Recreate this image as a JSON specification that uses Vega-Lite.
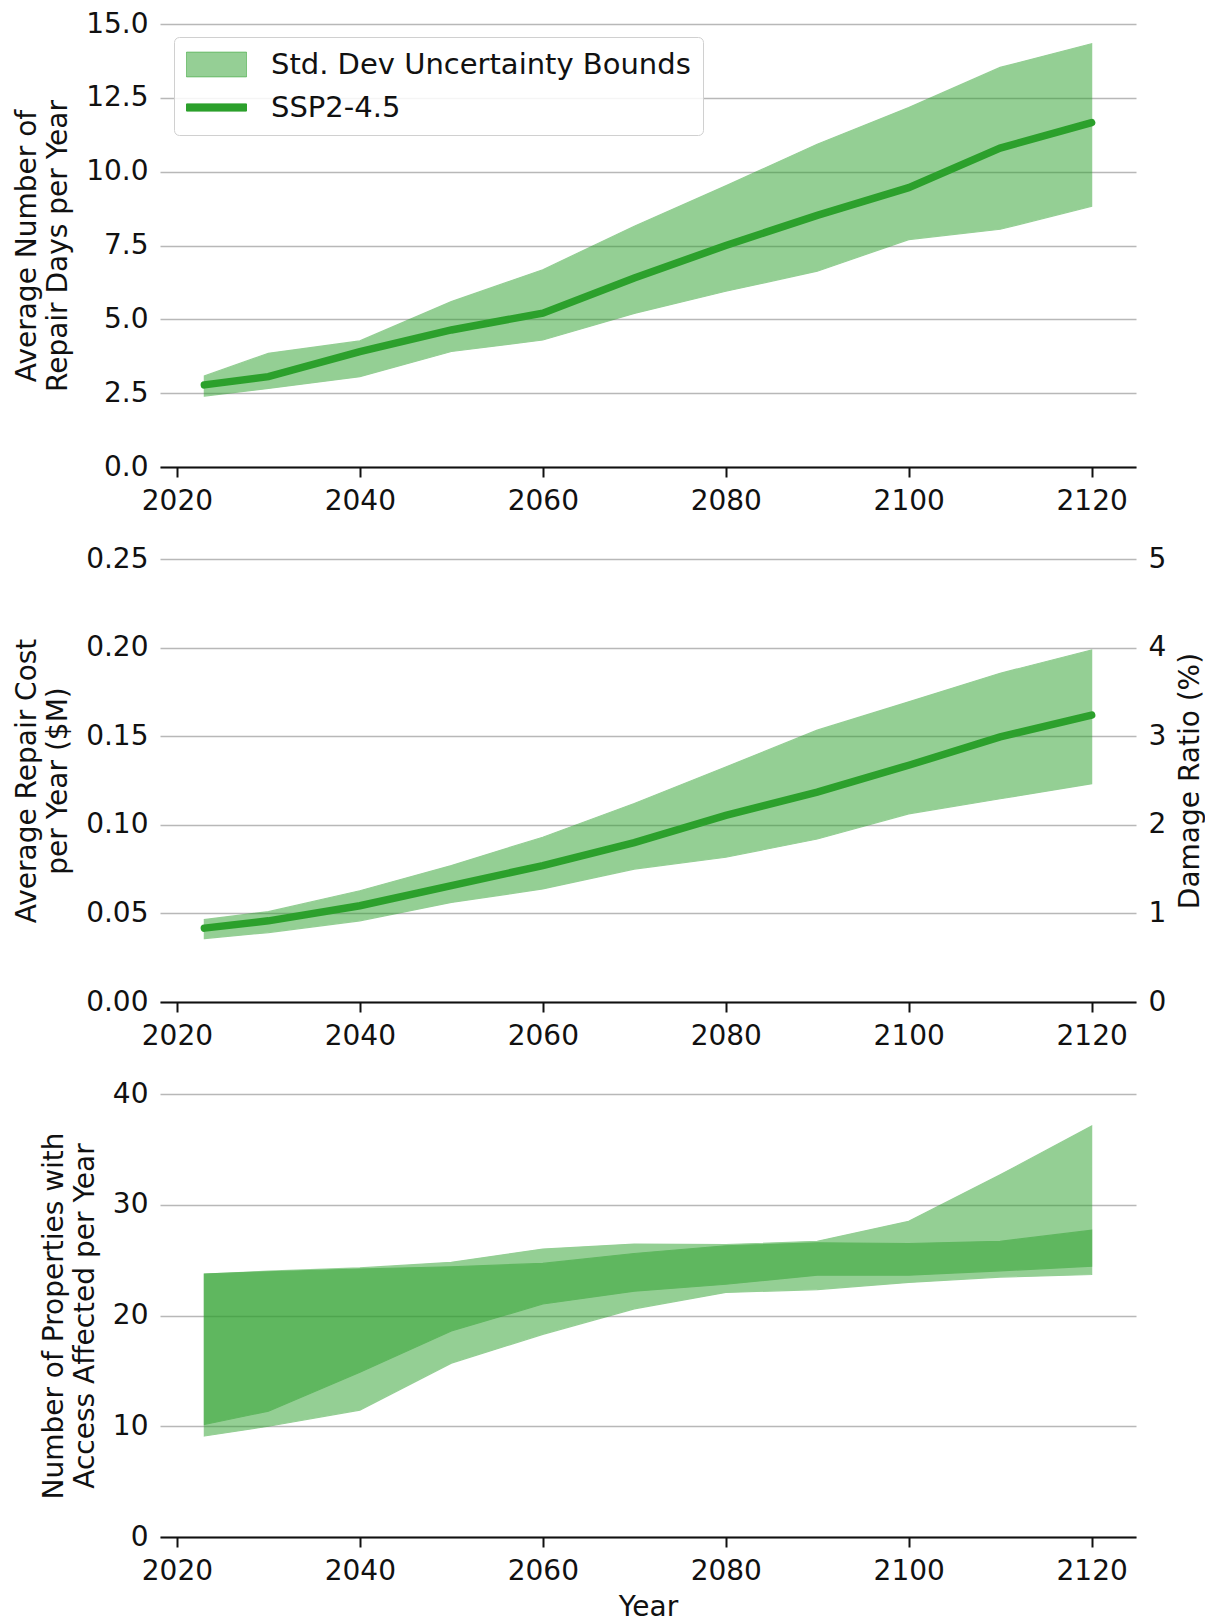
{
  "$schema": "https://vega.github.io/schema/vega-lite/v6.json",
  "background": "white",
  "padding": {"left": 13, "top": 10, "right": 0, "bottom": 0},
  "spacing": 30,
  "config": {
    "font": "DejaVu Sans",
    "view": {"stroke": null},
    "axis": {"labelFontSize": 28, "titleFontSize": 28, "labelColor": "#111", "titleColor": "#111", "titleFontWeight": "normal", "labelFont": "DejaVu Sans", "titleFont": "DejaVu Sans"},
    "axisY": {"domain": false, "ticks": false, "labelPadding": 12, "gridColor": "#b8b8b8", "gridWidth": 1.6, "titleLineHeight": 31, "titlePadding": 13},
    "axisX": {"grid": false, "domainColor": "#111", "domainWidth": 2, "tickColor": "#111", "tickWidth": 2, "tickSize": 10, "labelPadding": 10}
  },
  "datasets": {
    "days": [
      {"year": 2023, "mean": 2.78, "lo": 2.40, "hi": 3.08},
      {"year": 2030, "mean": 3.06, "lo": 2.66, "hi": 3.85},
      {"year": 2040, "mean": 3.91, "lo": 3.06, "hi": 4.27},
      {"year": 2050, "mean": 4.64, "lo": 3.91, "hi": 5.60},
      {"year": 2060, "mean": 5.21, "lo": 4.30, "hi": 6.68},
      {"year": 2070, "mean": 6.40, "lo": 5.20, "hi": 8.15},
      {"year": 2080, "mean": 7.50, "lo": 5.95, "hi": 9.52},
      {"year": 2090, "mean": 8.52, "lo": 6.63, "hi": 10.93},
      {"year": 2100, "mean": 9.46, "lo": 7.70, "hi": 12.17},
      {"year": 2110, "mean": 10.80, "lo": 8.05, "hi": 13.53},
      {"year": 2120, "mean": 11.66, "lo": 8.83, "hi": 14.33}
    ],
    "cost": [
      {"year": 2023, "mean": 0.0417, "lo": 0.0358, "hi": 0.0465, "ratio": 0.834},
      {"year": 2030, "mean": 0.0458, "lo": 0.0392, "hi": 0.0510, "ratio": 0.916},
      {"year": 2040, "mean": 0.0543, "lo": 0.0458, "hi": 0.0628, "ratio": 1.086},
      {"year": 2050, "mean": 0.0657, "lo": 0.0562, "hi": 0.0770, "ratio": 1.314},
      {"year": 2060, "mean": 0.0770, "lo": 0.0638, "hi": 0.0930, "ratio": 1.540},
      {"year": 2070, "mean": 0.0900, "lo": 0.0750, "hi": 0.1120, "ratio": 1.800},
      {"year": 2080, "mean": 0.1053, "lo": 0.0817, "hi": 0.1326, "ratio": 2.106},
      {"year": 2090, "mean": 0.1185, "lo": 0.0920, "hi": 0.1534, "ratio": 2.370},
      {"year": 2100, "mean": 0.1336, "lo": 0.1062, "hi": 0.1694, "ratio": 2.672},
      {"year": 2110, "mean": 0.1496, "lo": 0.1147, "hi": 0.1855, "ratio": 2.992},
      {"year": 2120, "mean": 0.1619, "lo": 0.1232, "hi": 0.1987, "ratio": 3.238}
    ],
    "access": [
      {"year": 2023, "lo1": 9.12, "hi1": 23.75, "lo2": 10.16, "hi2": 23.75},
      {"year": 2030, "lo1": 10.0, "hi1": 24.0, "lo2": 11.36, "hi2": 23.95},
      {"year": 2040, "lo1": 11.46, "hi1": 24.3, "lo2": 14.87, "hi2": 24.2},
      {"year": 2050, "lo1": 15.7, "hi1": 24.8, "lo2": 18.6, "hi2": 24.4},
      {"year": 2060, "lo1": 18.3, "hi1": 26.0, "lo2": 21.04, "hi2": 24.7},
      {"year": 2070, "lo1": 20.6, "hi1": 26.45, "lo2": 22.2, "hi2": 25.6},
      {"year": 2080, "lo1": 22.08, "hi1": 26.4, "lo2": 22.82, "hi2": 26.3},
      {"year": 2090, "lo1": 22.34, "hi1": 26.7, "lo2": 23.64, "hi2": 26.56},
      {"year": 2100, "lo1": 22.99, "hi1": 28.5, "lo2": 23.64, "hi2": 26.5},
      {"year": 2110, "lo1": 23.47, "hi1": 32.7, "lo2": 24.03, "hi2": 26.7},
      {"year": 2120, "lo1": 23.7, "hi1": 37.1, "lo2": 24.45, "hi2": 27.7}
    ]
  },
  "vconcat": [
    {
      "width": 976, "height": 443,
      "data": {"name": "days"},
      "layer": [
        {
          "mark": {"type": "area", "opacity": 0.5, "stroke": "#2ca02c", "strokeWidth": 1.2},
          "encoding": {
            "x": {"field": "year", "type": "quantitative", "scale": {"domain": [2018.15, 2124.85], "nice": false, "zero": false}, "axis": {"values": [2020, 2040, 2060, 2080, 2100, 2120], "format": "d", "title": null}},
            "y": {"field": "lo", "type": "quantitative", "title": ["Average Number of", "Repair Days per Year"], "scale": {"domain": [0, 15], "nice": false}, "axis": {"values": [0, 2.5, 5, 7.5, 10, 12.5, 15], "format": ".1f"}},
            "y2": {"field": "hi"},
            "color": {
              "datum": "Std. Dev Uncertainty Bounds",
              "scale": {"domain": ["Std. Dev Uncertainty Bounds", "SSP2-4.5"], "range": ["#2ca02c", "#2ca02c"]},
              "legend": {
                "orient": "none", "legendX": 14, "legendY": 13,
                "title": null,
                "symbolType": "square", "symbolSize": 900,
                "labelFontSize": 29, "labelColor": "#111", "labelFont": "DejaVu Sans", "labelLimit": 0,
                "labelOffset": 54, "rowPadding": 12, "padding": 12,
                "strokeColor": "#d0d0d0", "fillColor": "rgba(255,255,255,0.85)", "cornerRadius": 5,
                "encode": {
                  "symbols": {
                    "update": {
                      "shape": {"signal": "datum.value === 'SSP2-4.5' ? 'M-1,-0.24H3V0.24H-1Z' : 'M-1,-0.83H3V0.83H-1Z'"},
                      "fill": {"value": "#2ca02c"},
                      "fillOpacity": {"signal": "datum.value === 'SSP2-4.5' ? 1 : 0.5"},
                      "stroke": {"value": "#2ca02c"},
                      "strokeWidth": {"value": 1},
                      "strokeOpacity": {"signal": "datum.value === 'SSP2-4.5' ? 1 : 0.5"},
                      "opacity": {"value": 1}
                    }
                  }
                }
              }
            }
          }
        },
        {
          "mark": {"type": "line", "strokeWidth": 7.5, "strokeCap": "round"},
          "encoding": {
            "x": {"field": "year", "type": "quantitative"},
            "y": {"field": "mean", "type": "quantitative", "title": ["Average Number of", "Repair Days per Year"]},
            "color": {
              "datum": "SSP2-4.5",
              "legend": {
                "orient": "none", "legendX": 14, "legendY": 13,
                "title": null,
                "symbolType": "square", "symbolSize": 900,
                "labelFontSize": 29, "labelColor": "#111", "labelFont": "DejaVu Sans", "labelLimit": 0,
                "labelOffset": 54, "rowPadding": 12, "padding": 12,
                "strokeColor": "#d0d0d0", "fillColor": "rgba(255,255,255,0.85)", "cornerRadius": 5,
                "encode": {
                  "symbols": {
                    "update": {
                      "shape": {"signal": "datum.value === 'SSP2-4.5' ? 'M-1,-0.24H3V0.24H-1Z' : 'M-1,-0.83H3V0.83H-1Z'"},
                      "fill": {"value": "#2ca02c"},
                      "fillOpacity": {"signal": "datum.value === 'SSP2-4.5' ? 1 : 0.5"},
                      "stroke": {"value": "#2ca02c"},
                      "strokeWidth": {"value": 1},
                      "strokeOpacity": {"signal": "datum.value === 'SSP2-4.5' ? 1 : 0.5"},
                      "opacity": {"value": 1}
                    }
                  }
                }
              }
            }
          }
        }
      ]
    },
    {
      "width": 976, "height": 443,
      "data": {"name": "cost"},
      "layer": [
        {
          "mark": {"type": "area", "opacity": 0.5, "color": "#2ca02c", "stroke": "#2ca02c", "strokeWidth": 1.2},
          "encoding": {
            "x": {"field": "year", "type": "quantitative", "scale": {"domain": [2018.15, 2124.85], "nice": false, "zero": false}, "axis": {"values": [2020, 2040, 2060, 2080, 2100, 2120], "format": "d", "title": null}},
            "y": {"field": "lo", "type": "quantitative", "title": ["Average Repair Cost", "per Year ($M)"], "scale": {"domain": [0, 0.25], "nice": false}, "axis": {"values": [0, 0.05, 0.1, 0.15, 0.2, 0.25], "format": ".2f"}},
            "y2": {"field": "hi"}
          }
        },
        {
          "mark": {"type": "line", "strokeWidth": 7.5, "strokeCap": "round", "color": "#2ca02c"},
          "encoding": {
            "x": {"field": "year", "type": "quantitative"},
            "y": {"field": "mean", "type": "quantitative", "scale": {"domain": [0, 0.25], "nice": false}, "axis": null}
          }
        },
        {
          "mark": {"type": "line", "opacity": 0},
          "encoding": {
            "x": {"field": "year", "type": "quantitative"},
            "y": {"field": "ratio", "type": "quantitative", "title": "Damage Ratio (%)", "scale": {"domain": [0, 5], "nice": false}, "axis": {"orient": "right", "values": [0, 1, 2, 3, 4, 5], "format": "d", "grid": false, "labelPadding": 12, "titleAngle": 270, "titleBaseline": "top", "titlePadding": 11}}
          }
        }
      ],
      "resolve": {"scale": {"y": "independent"}, "axis": {"y": "independent"}}
    },
    {
      "width": 976, "height": 443,
      "data": {"name": "access"},
      "layer": [
        {
          "mark": {"type": "area", "opacity": 0.5, "color": "#2ca02c", "stroke": "#2ca02c", "strokeWidth": 1.2},
          "encoding": {
            "x": {"field": "year", "type": "quantitative", "title": "Year", "scale": {"domain": [2018.15, 2124.85], "nice": false, "zero": false}, "axis": {"values": [2020, 2040, 2060, 2080, 2100, 2120], "format": "d", "titlePadding": 8}},
            "y": {"field": "lo1", "type": "quantitative", "title": ["Number of Properties with", "Access Affected per Year"], "scale": {"domain": [0, 40], "nice": false}, "axis": {"values": [0, 10, 20, 30, 40], "format": "d"}},
            "y2": {"field": "hi1"}
          }
        },
        {
          "mark": {"type": "area", "opacity": 0.5, "color": "#2ca02c", "stroke": "#2ca02c", "strokeWidth": 1.2},
          "encoding": {
            "x": {"field": "year", "type": "quantitative", "title": "Year"},
            "y": {"field": "lo2", "type": "quantitative", "title": ["Number of Properties with", "Access Affected per Year"]},
            "y2": {"field": "hi2"}
          }
        }
      ]
    }
  ]
}
